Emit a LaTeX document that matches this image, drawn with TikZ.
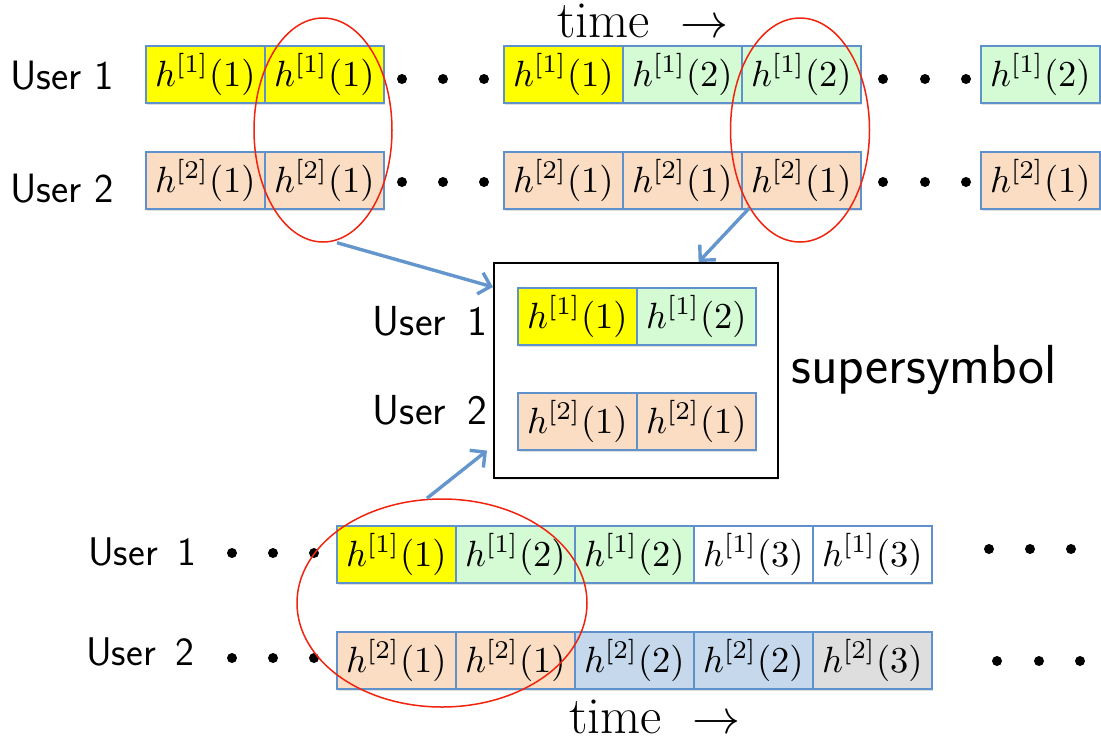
\documentclass[tikz,border=0pt]{standalone}
\usepackage{graphicx}
\usepackage{fontspec}
\usetikzlibrary{shapes.geometric,arrows.meta,shadows}

\definecolor{bbord}{RGB}{95,145,205}
\definecolor{cyel}{RGB}{255,255,0}
\definecolor{cgrn}{RGB}{213,251,213}
\definecolor{cpch}{RGB}{251,221,196}
\definecolor{cblu}{RGB}{197,216,236}
\definecolor{cgry}{RGB}{222,222,222}
\definecolor{cred}{RGB}{240,35,15}
\definecolor{carr}{RGB}{100,150,205}

\newcommand{\hm}[2]{\scalebox{3.65}{\normalsize$h^{[#1]}(#2)$}}
\newcommand{\ufonta}{\fontsize{41}{44}\selectfont\sffamily}
\newcommand{\ufontb}{\fontsize{42}{44}\selectfont\sffamily}
\newcommand{\ufontc}{\fontsize{40}{44}\selectfont\sffamily}
\newcommand{\sfontbig}{\fontsize{55}{58}\selectfont\sffamily}
\newcommand{\tfont}{\fontsize{52}{56}\selectfont}
\newcommand{\timearrow}{time\hspace{0.58em}\scalebox{4.8}{\normalsize$\rightarrow$}}

\tikzset{
  slot/.style={draw=bbord, line width=1.8pt, minimum width=119pt, minimum height=57pt,
    inner sep=0pt, anchor=north west,
    drop shadow={shadow xshift=1.5pt, shadow yshift=-2.5pt, opacity=0.25}},
  ylw/.style={slot, fill=cyel},
  grn/.style={slot, fill=cgrn},
  pch/.style={slot, fill=cpch},
  blu/.style={slot, fill=cblu},
  gry/.style={slot, fill=cgry},
  wht/.style={slot, fill=white},
  ell/.style={ellipse, draw=cred, line width=1.5pt, inner sep=0pt},
  dotn/.style={circle, fill=black, minimum size=10pt, inner sep=0pt},
  ulab/.style={inner sep=0pt},
  tlab/.style={font=\tfont, inner sep=0pt, anchor=base west},
  arr/.style={draw=carr, line width=3.4pt, -{Straight Barb[length=11pt,width=22pt]}},
  sbox/.style={draw=black, line width=1.6pt, minimum width=284pt, minimum height=215pt,
    inner sep=0pt, anchor=north west, fill=white,
    drop shadow={shadow xshift=1.5pt, shadow yshift=-2pt, opacity=0.15}}
}

\begin{document}
\begin{tikzpicture}[x=1pt,y=-1pt]
\useasboundingbox (0,0) rectangle (1101,740);

% ---------- top ----------
\node[tlab] (ttop) at (557,37) {\timearrow};

\node[ulab, font=\ufonta, anchor=base west] (ua1) at (10,89) {User 1};
\node[ulab, font=\ufonta, anchor=base west] (ua2) at (10,202) {User 2};

\node[ylw] (a11) at (145,45) {\hm{1}{1}};
\node[ylw] (a12) at (264,45) {\hm{1}{1}};
\node[ylw] (a13) at (503,45) {\hm{1}{1}};
\node[grn] (a14) at (622,45) {\hm{1}{2}};
\node[grn] (a15) at (741,45) {\hm{1}{2}};
\node[grn] (a16) at (980,45) {\hm{1}{2}};

\node[pch] (a21) at (145,151) {\hm{2}{1}};
\node[pch] (a22) at (264,151) {\hm{2}{1}};
\node[pch] (a23) at (503,151) {\hm{2}{1}};
\node[pch] (a24) at (622,151) {\hm{2}{1}};
\node[pch] (a25) at (741,151) {\hm{2}{1}};
\node[pch] (a26) at (980,151) {\hm{2}{1}};

\node[dotn] (da1) at (402,79) {};
\node[dotn] (da2) at (443,79) {};
\node[dotn] (da3) at (484,79) {};
\node[dotn] (da4) at (883,79) {};
\node[dotn] (da5) at (925,79) {};
\node[dotn] (da6) at (966,79) {};
\node[dotn] (db1) at (402,182) {};
\node[dotn] (db2) at (443,182) {};
\node[dotn] (db3) at (484,182) {};
\node[dotn] (db4) at (883,182) {};
\node[dotn] (db5) at (925,182) {};
\node[dotn] (db6) at (966,182) {};

% ---------- supersymbol ----------
\node[sbox] (sb) at (493,262) {};
\node[ylw] (s11) at (517,287) {\hm{1}{1}};
\node[grn] (s12) at (636,287) {\hm{1}{2}};
\node[pch] (s21) at (517,392) {\hm{2}{1}};
\node[pch] (s22) at (636,392) {\hm{2}{1}};
\node[ulab, font=\ufontb, anchor=base east] (um1) at (487,335) {User\hspace{0.5em}1};
\node[ulab, font=\ufontb, anchor=base east] (um2) at (487,424) {User\hspace{0.5em}2};
\node[font=\sfontbig, inner sep=0pt, anchor=base west] (ss) at (791,383) {supersymbol};

% ---------- bottom ----------
\node[ulab, font=\ufontc, anchor=base west] (ub1) at (88,565) {User\hspace{0.5em}1};
\node[ulab, font=\ufontc, anchor=base west] (ub2) at (86,665) {User\hspace{0.5em}2};

\node[ylw] (c11) at (336,525) {\hm{1}{1}};
\node[grn] (c12) at (455,525) {\hm{1}{2}};
\node[grn] (c13) at (574,525) {\hm{1}{2}};
\node[wht] (c14) at (693,525) {\hm{1}{3}};
\node[wht] (c15) at (812,525) {\hm{1}{3}};

\node[pch] (c21) at (336,631) {\hm{2}{1}};
\node[pch] (c22) at (455,631) {\hm{2}{1}};
\node[blu] (c23) at (574,631) {\hm{2}{2}};
\node[blu] (c24) at (693,631) {\hm{2}{2}};
\node[gry] (c25) at (812,631) {\hm{2}{3}};

\node[dotn] (dc1) at (232,553) {};
\node[dotn] (dc2) at (273,553) {};
\node[dotn] (dc3) at (314,553) {};
\node[dotn] (dc4) at (989,549) {};
\node[dotn] (dc5) at (1030,549) {};
\node[dotn] (dc6) at (1071,549) {};
\node[dotn] (dd1) at (232,658) {};
\node[dotn] (dd2) at (273,658) {};
\node[dotn] (dd3) at (314,658) {};
\node[dotn] (dd4) at (997,661) {};
\node[dotn] (dd5) at (1039,661) {};
\node[dotn] (dd6) at (1080,661) {};

\node[tlab] (tbot) at (569,733) {\timearrow};

% ---------- ellipses ----------
\node[ell, minimum width=138pt, minimum height=224pt] (e1) at (323,130) {};
\node[ell, minimum width=139pt, minimum height=224pt] (e2) at (800,130) {};
\node[ell, minimum width=290pt, minimum height=208pt] (e3) at (442,603) {};

% ---------- arrows ----------
\draw[arr] ([xshift=14pt]e1.south) -- ([yshift=-25pt]sb.north west);
\draw[arr] (e2.237) -- ([xshift=-80pt]sb.north east);
\draw[arr] ([xshift=-15pt]e3.north) -- ([xshift=-6pt,yshift=28pt]sb.south west);
\end{tikzpicture}
\end{document}
